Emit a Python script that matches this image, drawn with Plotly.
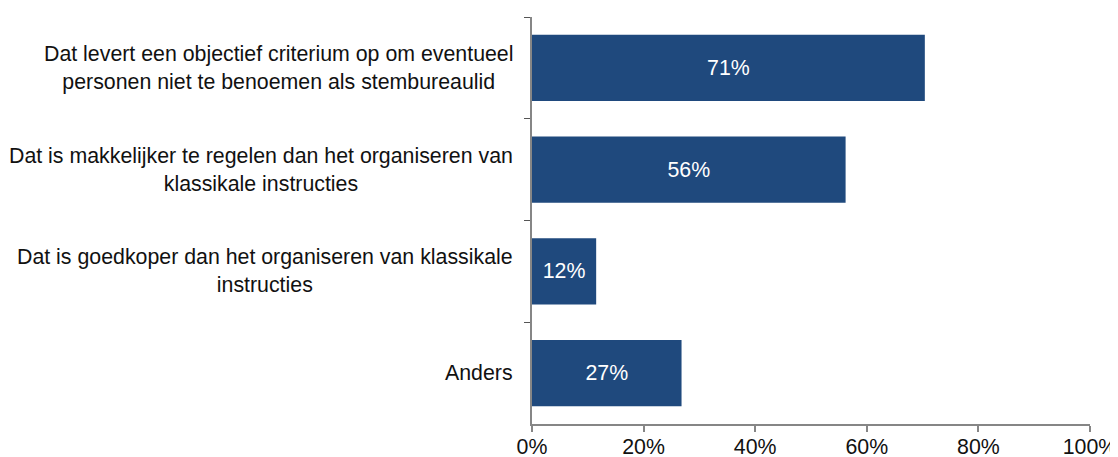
import plotly.graph_objects as go

categories = [
    "Dat levert een objectief criterium op om eventueel<br>personen niet te benoemen als stembureaulid",
    "Dat is makkelijker te regelen dan het organiseren van<br>klassikale instructies",
    "Dat is goedkoper dan het organiseren van klassikale<br>instructies",
    "Anders",
]
cat_keys = ["c1", "c2", "c3", "c4"]
values = [70.4, 56.2, 11.5, 26.8]
value_labels = ["71%", "56%", "12%", "27%"]
x_ticks = [0, 20, 40, 60, 80, 100]
x_ticklabels = ["0%", "20%", "40%", "60%", "80%", "100%"]

FONT = "Liberation Sans, Arial, sans-serif"
FS = 21.33
BAR = "#1F497D"
AXIS = "#868686"
TXT = "#111111"

fig = go.Figure(go.Bar(
    x=values, y=cat_keys, orientation="h",
    marker=dict(color=BAR, line=dict(width=0)),
    text=value_labels, textposition="inside", insidetextanchor="middle",
    textfont=dict(color="white", size=FS, family=FONT),
    cliponaxis=False,
))

for key, label in zip(cat_keys, categories):
    fig.add_annotation(
        x=0, xref="paper", y=key, yref="y",
        text=label, showarrow=False, xanchor="right", yanchor="middle",
        align="center", xshift=-17,
        font=dict(size=FS, family=FONT, color=TXT),
    )

# page body has an 8px default margin, so the figure is sized/offset to compensate
fig.update_layout(
    width=1110, height=449,
    margin=dict(l=524, r=28, t=9, b=33, autoexpand=False),
    paper_bgcolor="white", plot_bgcolor="white",
    bargap=0.35, showlegend=False,
    font=dict(family=FONT, size=FS, color=TXT),
)
fig.update_xaxes(
    range=[0, 100], tickvals=x_ticks, ticktext=x_ticklabels, automargin=False,
    showgrid=False, zeroline=False, showline=True, linecolor=AXIS, linewidth=1.5,
    ticks="outside", ticklen=6, tickcolor=AXIS, tickwidth=1.5,
    ticklabelstandoff=-3,
    tickfont=dict(size=FS, family=FONT, color=TXT),
)
fig.update_yaxes(
    type="category", categoryorder="array", categoryarray=cat_keys, automargin=False,
    autorange="reversed", tickson="boundaries", showticklabels=False,
    showgrid=False, zeroline=False, showline=True, linecolor=AXIS, linewidth=1.5,
    ticks="outside", ticklen=6, tickcolor="#555555", tickwidth=1.2,
)

fig.write_html("out.html")
